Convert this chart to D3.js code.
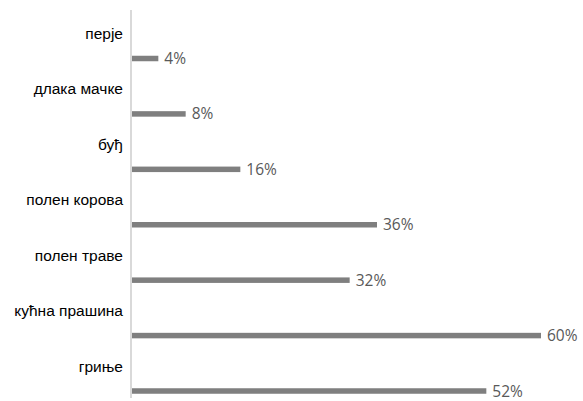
<!DOCTYPE html>
<html>
<head>
<meta charset="utf-8">
<script src="https://cdn.jsdelivr.net/npm/d3@7"></script>
<style>
  html, body { margin: 0; padding: 0; background: #ffffff; }
  svg { display: block; }
</style>
</head>
<body>
<div id="chart"></div>
<script>
const categories = ["перје", "длака мачке", "буђ", "полен корова", "полен траве", "кућна прашина", "гриње"];
const values = [4, 8, 16, 36, 32, 60, 52];

const W = 583, H = 401;
const svg = d3.select("#chart").append("svg").attr("width", W).attr("height", H);

const x = d3.scaleLinear().domain([0, 60]).range([131, 541]);
const y = d3.scalePoint().domain(categories).range([58.5, 391]);

const data = categories.map((c, i) => ({ c, v: values[i] }));

// axis line
svg.append("line")
  .attr("x1", x(0)).attr("x2", x(0))
  .attr("y1", 10).attr("y2", 398)
  .attr("stroke", "#d9d9d9").attr("stroke-width", 2);

// bars
svg.selectAll("rect.bar").data(data).enter().append("rect")
  .attr("class", "bar")
  .attr("x", x(0) + 1)
  .attr("y", d => y(d.c) - 2.75)
  .attr("width", d => x(d.v) - x(0) - 1)
  .attr("height", 5.5)
  .attr("fill", "#7f7f7f");

// category labels
svg.selectAll("text.cat").data(data).enter().append("text")
  .attr("class", "cat")
  .attr("x", 123)
  .attr("y", d => y(d.c) - 19.5)
  .attr("text-anchor", "end")
  .attr("font-family", "Liberation Sans, Arial, sans-serif")
  .attr("font-size", 15.5)
  .attr("fill", "#000000")
  .text(d => d.c);

// value labels
svg.selectAll("text.val").data(data).enter().append("text")
  .attr("class", "val")
  .attr("x", d => x(d.v) + 6)
  .attr("y", d => y(d.c) + 5.5)
  .attr("font-family", "Open Sans, Carlito, sans-serif")
  .attr("font-size", 15.5)
  .attr("fill", "#595959")
  .text(d => d.v + "%");
</script>
</body>
</html>
